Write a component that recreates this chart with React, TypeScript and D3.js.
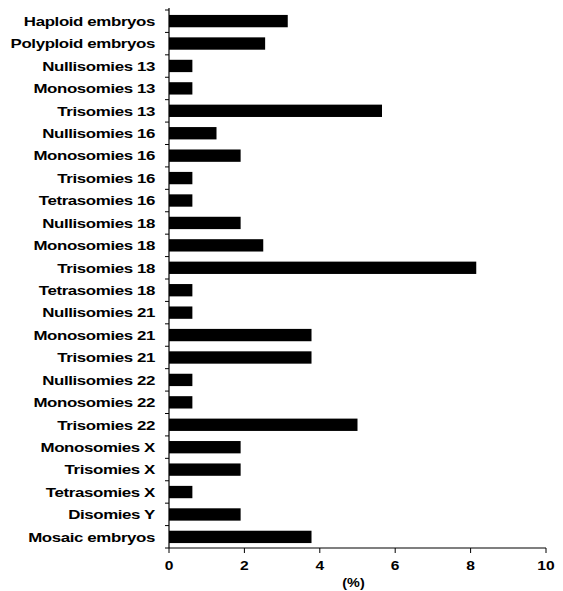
import React from 'react';
import * as d3 from 'd3';

const categories = [
  'Haploid embryos', 'Polyploid embryos', 'Nullisomies 13', 'Monosomies 13', 'Trisomies 13',
  'Nullisomies 16', 'Monosomies 16', 'Trisomies 16', 'Tetrasomies 16', 'Nullisomies 18',
  'Monosomies 18', 'Trisomies 18', 'Tetrasomies 18', 'Nullisomies 21', 'Monosomies 21',
  'Trisomies 21', 'Nullisomies 22', 'Monosomies 22', 'Trisomies 22', 'Monosomies X',
  'Trisomies X', 'Tetrasomies X', 'Disomies Y', 'Mosaic embryos',
];
const values = [
  3.15, 2.55, 0.62, 0.62, 5.65,
  1.26, 1.9, 0.62, 0.62, 1.9,
  2.5, 8.15, 0.62, 0.62, 3.78,
  3.78, 0.62, 0.62, 5.0, 1.9,
  1.9, 0.62, 1.9, 3.78,
];
const xTicks = [0, 2, 4, 6, 8, 10];

const App = () => {
  const width = 563;
  const height = 591;
  const x = d3.scaleLinear().domain([0, 10]).range([169, 546]);
  const y = d3.scaleBand().domain(categories).range([10, 548]).paddingInner(0.45).paddingOuter(0.22);
  const step = (548 - 10) / categories.length;
  const font = 'Liberation Sans, Arial, sans-serif';

  return (
    <svg width={width} height={height} style={{ position: 'absolute', left: 0, top: 0, background: '#fff' }}>
      {/* bars */}
      {categories.map((c, i) => (
        <rect key={c} x={x(0)} y={y(c)} width={x(values[i]) - x(0)} height={y.bandwidth()} fill="#000" />
      ))}
      {/* y axis */}
      <line x1={x(0)} x2={x(0)} y1={8} y2={548} stroke="#000" strokeWidth={1.2} />
      {d3.range(categories.length + 1).map(i => (
        <line key={i} x1={x(0) - 4} x2={x(0)} y1={10 + i * step} y2={10 + i * step} stroke="#000" strokeWidth={1} />
      ))}
      {categories.map(c => (
        <text key={c} transform={`translate(155,${(y(c) as number) + y.bandwidth() / 2}) scale(1.25,1)`}
          dy="0.35em" textAnchor="end"
          fontFamily={font} fontWeight="bold" fontSize={13.5} letterSpacing={-0.3}>{c}</text>
      ))}
      {/* x axis */}
      <line x1={x(0)} x2={x(10)} y1={548} y2={548} stroke="#000" strokeWidth={1.2} />
      {xTicks.map(t => (
        <g key={t}>
          <line x1={x(t)} x2={x(t)} y1={548} y2={553} stroke="#000" strokeWidth={1} />
          <text transform={`translate(${x(t)},570) scale(1.2,1)`} textAnchor="middle" fontFamily={font} fontWeight="bold" fontSize={13}>{t}</text>
        </g>
      ))}
      <text transform={`translate(${(x(0) + x(10)) / 2 - 4},587) scale(1.2,1)`} textAnchor="middle" fontFamily={font} fontWeight="bold" fontSize={12}>(%)</text>
    </svg>
  );
};

export default App;
